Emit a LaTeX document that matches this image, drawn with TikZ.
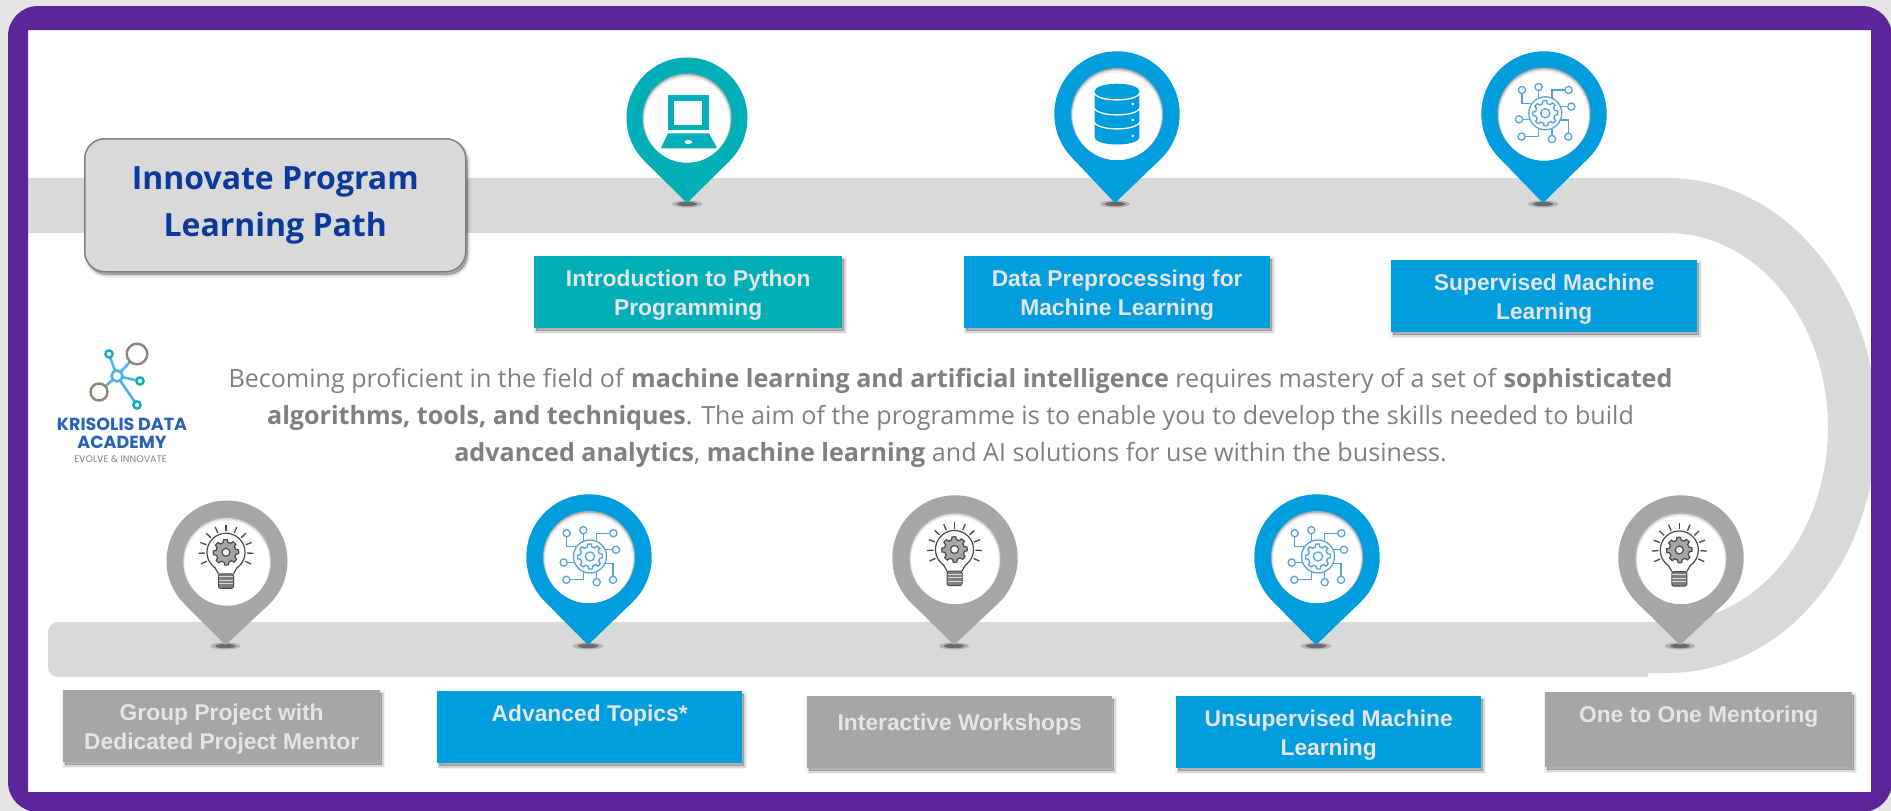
\documentclass[tikz,border=0pt]{standalone}
\usepackage{fontspec}
\setmainfont{Liberation Sans}
\newfontfamily\opensans{Open Sans}
\newfontfamily\logofont{Poppins}
\usetikzlibrary{shadows,calc}
\definecolor{purpleframe}{HTML}{5C2599}
\definecolor{road}{HTML}{D9D9D9}
\definecolor{tealc}{HTML}{00B0B9}
\definecolor{bluec}{HTML}{009DDF}
\definecolor{greyc}{HTML}{A6A6A6}
\definecolor{titleblue}{HTML}{0B3A9E}
\definecolor{bodygrey}{HTML}{808080}
\definecolor{circuitc}{HTML}{55A3D6}
\definecolor{logoblue}{HTML}{4DB3F0}
\definecolor{logotan}{HTML}{8F8479}
\definecolor{logoteal}{HTML}{12AEB8}
\definecolor{logotext}{HTML}{2A62B8}
\definecolor{iconink}{HTML}{4A4A4A}
\tikzset{
  softshadow/.style={
    general shadow={shadow xshift=2pt,shadow yshift=-3pt,fill=black,draw=black,line width=6pt,opacity=.05},
    general shadow={shadow xshift=2pt,shadow yshift=-3pt,fill=black,draw=black,line width=3pt,opacity=.10},
    general shadow={shadow xshift=2pt,shadow yshift=-3pt,fill=black,opacity=.14}},
  infobox/.style={softshadow,anchor=north west,inner sep=0pt,text=white!90!black,align=center,
    font=\fontsize{22.8}{28.5}\selectfont\bfseries},
  titlebox/.style={softshadow,anchor=north west,inner sep=0pt,fill=road,draw=black!50,line width=1.5pt,
    rounded corners=20pt,minimum width=381pt,minimum height=133pt,text=titleblue,align=center,
    font=\opensans\fontsize{32}{47}\selectfont\bfseries},
  bodytext/.style={inner sep=0pt,text=bodygrey,align=center,font=\opensans\fontsize{25.1}{37}\selectfont},
  logotitle/.style={inner sep=0pt,text=logotext,font=\logofont\fontsize{17.5}{18}\selectfont\bfseries},
  logosub/.style={inner sep=0pt,text=black!50,font=\logofont\fontsize{9.5}{10}\selectfont},
  logolink/.style={draw=logoblue,line width=2.6pt},
  circuit/.style={draw=circuitc,line width=1.3pt}
}
% box: name, x0, y0, x1, y1, colour, text
\newcommand{\infobox}[7]{%
  \pgfmathsetmacro{\bw}{#4-#2}\pgfmathsetmacro{\bh}{#5-#3}%
  \node[infobox,fill=#6,minimum width=\bw pt,minimum height=\bh pt] (#1) at (#2,#3) {\rule{0pt}{22pt}#7};}
% pin: name, cx, cy, tipx, tipy, R, r, colour
\newcommand{\mappin}[8]{%
  \coordinate (#1) at (#2,#3);
  \coordinate (#1tip) at (#4,#5);
  \fill[black,opacity=.18] (#4,#5+1) ellipse [x radius=15,y radius=3.5];
  \fill[black,opacity=.40] (#4,#5+1) ellipse [x radius=10,y radius=2.2];
  \pgfmathsetmacro{\pinth}{acos(#6/(#5-#3))}%
  \pgfmathsetmacro{\pindx}{#6*sin(\pinth)}%
  \pgfmathsetmacro{\pindy}{#6*cos(\pinth)}%
  \fill[#8] (#2,#3) circle [radius=#6];
  \fill[#8] (#1tip) -- (#2+\pindx,#3+\pindy) -- (#2-\pindx,#3+\pindy) -- cycle;
  \fill[black!32] (#2,#3) circle [radius=#7];
  \fill[black!14] (#2,#3+.8) circle [radius=#7-.8];
  \fill[black!6] (#2,#3+1.5) circle [radius=#7-1.5];
  \fill[white] (#2,#3+2.2) circle [radius=#7-2.2];}
\newcommand{\gearshape}[3]{% outer radius, inner radius, options
  \draw[#3] plot[domain=0:360,samples=65,variable=\t] ({(mod(\t+11.25,45)<22.5?#1:#2)*cos(\t)},{(mod(\t+11.25,45)<22.5?#1:#2)*sin(\t)}) -- cycle;}
\newcommand{\circuiticon}[2]{%
  \begin{scope}[shift={(#1,#2)}]
    \draw[circuit] (0,0) circle [radius=16.5];
    \gearshape{12.5}{9.8}{circuit}
    \draw[circuit] (0,0) circle [radius=4.6];
    \draw[circuit] (-23.3,-19.6) -- (-23.3,-10) -- (-14,-10);
    \draw[circuit] (-6.7,-22.6) -- (-6.7,-15.2);
    \draw[circuit] (19.6,-23.3) -- (6.7,-23.3) -- (6.7,-15.2);
    \draw[circuit] (22.3,-6.7) -- (15.2,-6.7);
    \draw[circuit] (-22.6,6) -- (-15.6,6);
    \draw[circuit] (-20,23.3) -- (-6.7,23.3) -- (-6.7,15.2);
    \draw[circuit] (6.7,22) -- (6.7,15.2);
    \draw[circuit] (23,19.6) -- (23,6.7) -- (15.2,6.7);
    \foreach \px/\py in {-23.3/-23.3,-6.7/-26.3,23.3/-23.3,26/-6.7,-26.3/6,-23.7/23.3,6.7/25.7,23/23.3}
      \draw[circuit] (\px,\py) circle [radius=3.6];
  \end{scope}}
\newcommand{\bulbicon}[2]{%
  \begin{scope}[shift={(#1,#2)}]
    \draw[iconink,line width=1.2pt,line join=round] (-7.5,21.5) -- (-10.9,15.6) --
      plot[domain=125:415,samples=50,variable=\t] ({19*cos(\t)},{19*sin(\t)}) -- (7.5,21.5);
    \fill[black!50,draw=iconink,line width=1pt,rounded corners=2pt] (-7.5,21.5) rectangle (7.5,36);
    \foreach \sy in {24.5,28,31.5} \draw[white!85!black,line width=1pt] (-7,\sy) -- (7,\sy);
    \gearshape{12.7}{10}{iconink,line width=1.2pt,fill=black!35}
    \fill[white,draw=iconink,line width=1.2pt] (0,0) circle [radius=4];
    \foreach \a in {-115,-92,-69,-46,-23,0,23,46,69,92,115}
      \draw[iconink,line width=1.3pt] ({\a-90}:21) -- ({\a-90}:27.5);
  \end{scope}}
\begin{document}
\begin{tikzpicture}[x=1pt,y=-1pt]
\useasboundingbox (0,0) rectangle (1891,811);
\fill[black!10] (0,0) rectangle (1891,811);
\fill[white] (20,20) rectangle (1880,800);
% road
\fill[road] (28,178) rectangle (1662,233);
\fill[road] (1660,178) -- plot[domain=-90:90,samples=70,variable=\t] ({1668+208.6*cos(\t)},{425.5+247.5*sin(\t)})
  -- (1640,673) -- (1640,622) -- plot[domain=90:-90,samples=70,variable=\t] ({1668+160*cos(\t)},{427.5+194.5*sin(\t)}) -- (1660,233) -- cycle;
\fill[road] (1648,622) [rounded corners=10pt] -- (48,622) -- (48,677) [sharp corners] -- (1648,677) -- cycle;
% frame
\fill[purpleframe,even odd rule]
  [rounded corners=30pt] (8,6) rectangle (1892,812)
  [sharp corners] (28,30) rectangle (1871,792);
% title
\node[titlebox] (title) at (84,138) {Innovate Program\\Learning Path};
% top pins
\mappin{pinA}{687}{118}{687}{203}{60.5}{44.5}{tealc}
\mappin{pinB}{1117}{114}{1115}{203}{62.7}{46}{bluec}
\mappin{pinC}{1544}{114}{1543}{203}{62.7}{46.5}{bluec}
% laptop
\fill[tealc] (668,94.7) rectangle (708.7,130);
\fill[white] (674.3,100.7) rectangle (702.3,125.3);
\fill[tealc,line join=round,draw=tealc,line width=1.5pt] (668.5,134) -- (708.5,134) -- (716,147.5) -- (662,147.5) -- cycle;
\fill[white] (688.3,142) ellipse [x radius=4,y radius=2];
% database
\fill[bluec] (1094.7,91) -- (1094.7,137) .. controls (1094.7,147) and (1139.3,147) .. (1139.3,137) -- (1139.3,91) -- cycle;
\fill[bluec] (1117,91) ellipse [x radius=22.3,y radius=7.3];
\foreach \by in {92.7,107.7,121.7}
  \draw[white,line width=1.3pt] (1094,\by) .. controls (1097,\by+9.6) and (1137,\by+9.6) .. (1140,\by);
\foreach \by in {104,120,136} \fill[white] (1132.7,\by) circle [radius=1.3];
\circuiticon{1545.3}{113.3}
% top boxes
\infobox{boxA}{534}{256}{842}{328}{tealc}{Introduction to Python\\Programming}
\infobox{boxB}{964}{256}{1270}{328}{bluec}{Data Preprocessing for\\Machine Learning}
\infobox{boxC}{1391}{260}{1697}{332}{bluec}{Supervised Machine\\Learning}
% logo
\coordinate (hub) at (117,376);
\coordinate (lt1) at (109,354);
\coordinate (lt2) at (140,381);
\coordinate (lt3) at (137,405);
\coordinate (ln1) at (137,354);
\coordinate (ln2) at (99,392);
\draw[logolink] (hub) -- (lt1) (hub) -- (lt2) (hub) -- (lt3) (hub) -- (ln1) (hub) -- (ln2);
\fill[white,draw=logoblue,line width=2.6pt] (hub) circle [radius=5.5];
\fill[white,draw=logoteal,line width=2.4pt] (lt1) circle [radius=3.6];
\fill[white,draw=logoteal,line width=2.4pt] (lt2) circle [radius=3.6];
\fill[white,draw=logoteal,line width=2.4pt] (lt3) circle [radius=3.6];
\fill[white,draw=logotan,line width=2.4pt] (ln1) circle [radius=10.3];
\fill[white,draw=logotan,line width=2.4pt] (ln2) circle [radius=8.5];
\node[logotitle] (logoA) at (122,424) {KRISOLIS DATA};
\node[logotitle] (logoB) at (122,442) {ACADEMY};
\node[logosub] (logoC) at (120.5,459) {EVOLVE \& INNOVATE};
% body
\node[bodytext] (body) at (950.5,417.5) {Becoming proficient in the field of \textbf{machine learning and artificial intelligence} requires mastery of a set of \textbf{sophisticated}\\
\textbf{algorithms, tools, and techniques}. The aim of the programme is to enable you to develop the skills needed to build\\
\textbf{advanced analytics}, \textbf{machine learning} and AI solutions for use within the business.};
% lower pins
\mappin{pinD}{227}{561}{225.5}{645}{60.5}{44.5}{greyc}
\mappin{pinE}{589}{557}{588}{645}{62.7}{46}{bluec}
\mappin{pinF}{955}{558}{954}{645}{62.7}{46}{greyc}
\mappin{pinG}{1317}{557}{1316}{645}{62.7}{46}{bluec}
\mappin{pinH}{1681}{558}{1680}{645}{62.7}{46}{greyc}
\bulbicon{226}{552.3}
\bulbicon{954.5}{549.5}
\bulbicon{1679.3}{550}
\circuiticon{590}{556.5}
\circuiticon{1318}{556.5}
% lower boxes
\infobox{boxD}{63}{690}{380}{762}{greyc}{Group Project with\\Dedicated Project Mentor}
\infobox{boxE}{437}{691}{742}{763}{bluec}{\rule{0pt}{26pt}Advanced Topics*\\\strut}
\infobox{boxF}{807}{696}{1112}{768}{greyc}{\rule{0pt}{33pt}Interactive Workshops\\\strut}
\infobox{boxG}{1176}{696}{1481}{768}{bluec}{Unsupervised Machine\\Learning}
\infobox{boxH}{1545}{692}{1852}{767}{greyc}{One to One Mentoring\\\strut}
\end{tikzpicture}
\end{document}
